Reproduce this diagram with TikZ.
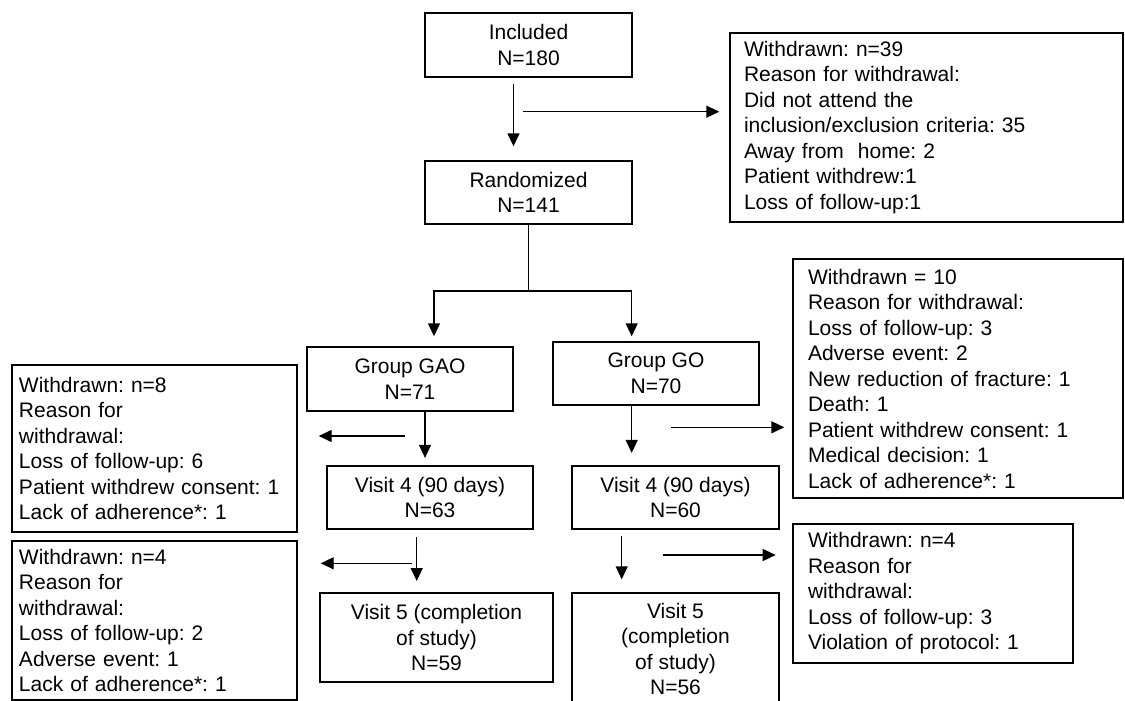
\documentclass[tikz,border=0pt]{standalone}
\usepackage{fontspec}
\setmainfont{Liberation Sans}
\frenchspacing
\usetikzlibrary{arrows.meta}

\tikzset{
  box/.style={draw, line width=1.4pt, align=center, inner sep=0pt, font=\fontsize{21}{25.5}\selectfont},
  note/.style={box, align=left},
  arr/.style={-{Triangle[length=13pt,width=12pt]}, line width=1.4pt}
}

\begin{document}
\begin{tikzpicture}[x=1pt, y=-1pt]
\useasboundingbox (0,0) rectangle (1125,701);
\node[box, minimum width=207pt, minimum height=64pt] (included) at (528.5,45) {Included\\N=180};
\node[box, minimum width=207pt, minimum height=63pt] (randomized) at (528.5,192.5) {Randomized\\N=141};
\node[box, minimum width=206pt, minimum height=64pt] (gao) at (410,379) {Group GAO\\N=71};
\node[box, minimum width=206pt, minimum height=63pt] (go) at (656,373.5) {Group GO\\N=70};
\node[box, minimum width=206pt, minimum height=63pt] (visit4gao) at (430,497.5) {Visit 4 (90 days)\\N=63};
\node[box, minimum width=207pt, minimum height=63pt] (visit4go) at (675.5,497.5) {Visit 4 (90 days)\\N=60};
\node[box, minimum width=233pt, minimum height=89pt] (visit5gao) at (436.5,637.5) {Visit 5 (completion\\of study)\\N=59};
\node[box, minimum width=207pt, minimum height=112pt] (visit5go) at (675.5,649) {Visit 5\\(completion\\of study)\\N=56};
\node[note, inner xsep=14pt, text width=365pt, minimum height=189pt] (out39) at (926.5,127.5) {Withdrawn: n=39\\Reason for withdrawal:\\Did not attend the\\inclusion/exclusion criteria: 35\\Away from~ home: 2\\Patient withdrew:1\\Loss of follow-up:1};
\node[note, inner xsep=7pt, text width=271pt, minimum height=167pt] (out8) at (154.5,448.5) {Withdrawn: n=8\\Reason for\\withdrawal:\\Loss of follow-up: 6\\Patient withdrew consent: 1\\Lack of adherence*: 1};
\node[note, inner xsep=7pt, text width=271pt, minimum height=159pt] (out4gao) at (154.5,620.5) {Withdrawn: n=4\\Reason for\\withdrawal:\\Loss of follow-up: 2\\Adverse event: 1\\Lack of adherence*: 1};
\node[note, inner xsep=15pt, text width=300pt, minimum height=239pt] (out10) at (958,378.5) {Withdrawn = 10\\Reason for withdrawal:\\Loss of follow-up: 3\\Adverse event: 2\\New reduction of fracture: 1\\Death: 1\\Patient withdrew consent: 1\\Medical decision: 1\\Lack of adherence*: 1};
\node[note, inner xsep=15pt, text width=250pt, minimum height=139pt] (out4go) at (933,593.5) {Withdrawn: n=4\\Reason for\\withdrawal:\\Loss of follow-up: 3\\Violation of protocol: 1};
\coordinate (split39) at (523,111.7);
\coordinate (split8) at (405,436);
\coordinate (split4gao) at (411.7,563.3);
\coordinate (split10) at (671,427.3);
\coordinate (split4go) at (662.7,555);
\draw[arr, shorten <=6pt, shorten >=14pt] ([xshift=-15pt]included.south) -- ([xshift=-15pt]randomized.north);
\draw[arr, shorten >=10pt] (split39) -- (split39 -| out39.west);
\draw[line width=1.4pt] (randomized.south) -- (randomized.south |- 0,291) coordinate (fork);
\draw[arr, shorten >=10pt] (fork) -| ([xshift=24pt]gao.north);
\draw[arr, shorten >=5pt] (fork) -| ([xshift=-24.3pt]go.north);
\draw[arr, shorten >=7.4pt] ([xshift=15pt]gao.south) -- ([xshift=15pt]gao.south |- visit4gao.north);
\draw[arr, shorten >=21pt] (split8) -- (split8 -| out8.east);
\draw[arr, shorten <=7pt, shorten >=11.3pt] ([xshift=-13.3pt]visit4gao.south) -- ([xshift=-13.3pt]visit4gao.south |- visit5gao.north);
\draw[arr, shorten >=23pt] (split4gao) -- (split4gao -| out4gao.east);
\draw[arr, shorten >=12.4pt] ([xshift=-24.3pt]go.south) -- ([xshift=-24.3pt]go.south |- visit4go.north);
\draw[arr, shorten >=8pt] (split10) -- (split10 -| out10.west);
\draw[arr, shorten <=6pt, shorten >=13pt] ([xshift=-53.8pt]visit4go.south) -- ([xshift=-53.8pt]visit4go.south |- visit5go.north);
\draw[arr, shorten >=16.6pt] (split4go) -- (split4go -| out4go.west);
\end{tikzpicture}
\end{document}
